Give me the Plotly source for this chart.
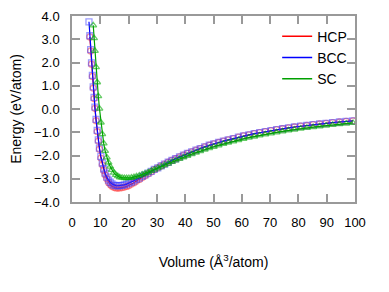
import plotly.graph_objects as go

# Volume grid (Å^3/atom)
vol_hcp = [6.3, 6.6, 6.9, 7.2, 7.5, 7.8, 8.1, 8.5, 8.9, 9.3, 9.7, 10.2, 10.7, 11.2, 11.7,
           12.3, 12.9, 13.5, 14.1, 14.8, 15.5, 16.2, 16.9, 17.7, 18.5, 19.3, 20.1, 21.0,
           21.9, 22.8, 23.8, 24.8, 25.8, 26.9, 28.0, 29.1, 30.3, 31.5, 32.7, 34.0, 35.3,
           36.6, 38.0, 39.4, 40.8, 42.3, 43.8, 45.3, 46.9, 48.5, 50.1, 51.8, 53.5, 55.2,
           57.0, 58.8, 60.6, 62.5, 64.4, 66.3, 68.3, 70.3, 72.3, 74.4, 76.5, 78.6, 80.8,
           83.0, 85.2, 87.5, 89.8, 92.1, 94.5, 96.9, 99.3]
e_hcp = [3.10, 2.50, 1.93, 1.40, 0.90, 0.45, 0.03, -0.50, -0.97, -1.38, -1.73, -2.11, -2.40,
         -2.64, -2.83, -3.00, -3.16, -3.25, -3.32, -3.37, -3.395, -3.40, -3.395, -3.38,
         -3.36, -3.33, -3.29, -3.23, -3.17, -3.10, -3.03, -2.95, -2.87, -2.79, -2.70,
         -2.61, -2.53, -2.45, -2.37, -2.29, -2.21, -2.14, -2.06, -1.985, -1.91, -1.84,
         -1.77, -1.70, -1.63, -1.56, -1.50, -1.44, -1.38, -1.325, -1.27, -1.21, -1.16,
         -1.11, -1.06, -1.02, -0.974, -0.93, -0.89, -0.85, -0.81, -0.775, -0.74, -0.71,
         -0.675, -0.645, -0.615, -0.59, -0.56, -0.535, -0.51]

vol_bcc = [6.0, 6.3, 6.6, 6.9, 7.2, 7.5, 7.8, 8.1, 8.5, 8.9, 9.3, 9.7, 10.2, 10.7, 11.2,
           11.7, 12.3, 12.9, 13.5, 14.1, 14.8, 15.5, 16.2, 16.9, 17.7, 18.5, 19.3, 20.1,
           21.0, 21.9, 22.8, 23.8, 24.8, 25.8, 26.9, 28.0, 29.1, 30.3, 31.5, 32.7, 34.0,
           35.3, 36.6, 38.0, 39.4, 40.8, 42.3, 43.8, 45.3, 46.9, 48.5, 50.1, 51.8, 53.5,
           55.2, 57.0, 58.8, 60.6, 62.5, 64.4, 66.3, 68.3, 70.3, 72.3, 74.4, 76.5, 78.6,
           80.8, 83.0, 85.2, 87.5, 89.8, 92.1, 94.5, 96.9, 99.3]
e_bcc = [3.75, 3.15, 2.55, 1.98, 1.45, 0.95, 0.50, 0.08, -0.45, -0.92, -1.33, -1.68, -2.04,
         -2.33, -2.57, -2.76, -2.93, -3.06, -3.15, -3.22, -3.27, -3.295, -3.30, -3.295,
         -3.284, -3.26, -3.23, -3.19, -3.14, -3.09, -3.03, -2.97, -2.90, -2.83, -2.76,
         -2.68, -2.60, -2.53, -2.45, -2.37, -2.29, -2.21, -2.14, -2.06, -1.985, -1.91,
         -1.84, -1.77, -1.70, -1.63, -1.56, -1.50, -1.44, -1.38, -1.325, -1.27, -1.21,
         -1.16, -1.11, -1.06, -1.02, -0.974, -0.93, -0.89, -0.85, -0.81, -0.775, -0.74,
         -0.71, -0.675, -0.645, -0.615, -0.59, -0.56, -0.535, -0.51]

vol_sc = [7.5, 7.8, 8.1, 8.5, 8.9, 9.3, 9.7, 10.2, 10.7, 11.2, 11.7, 12.3, 12.9, 13.5, 14.1,
          14.8, 15.5, 16.2, 16.9, 17.7, 18.5, 19.3, 20.1, 21.0, 21.9, 22.8, 23.8, 24.8,
          25.8, 26.9, 28.0, 29.1, 30.3, 31.5, 32.7, 34.0, 35.3, 36.6, 38.0, 39.4, 40.8,
          42.3, 43.8, 45.3, 46.9, 48.5, 50.1, 51.8, 53.5, 55.2, 57.0, 58.8, 60.6, 62.5,
          64.4, 66.3, 68.3, 70.3, 72.3, 74.4, 76.5, 78.6, 80.8, 83.0, 85.2, 87.5, 89.8,
          92.1, 94.5, 96.9, 99.3]
e_sc = [3.60, 3.05, 2.50, 1.80, 1.15, 0.55, 0.02, -0.58, -1.08, -1.48, -1.80, -2.08, -2.30,
        -2.48, -2.62, -2.74, -2.83, -2.89, -2.935, -2.955, -2.967, -2.97, -2.966, -2.951,
        -2.93, -2.90, -2.863, -2.82, -2.774, -2.72, -2.664, -2.605, -2.54, -2.48, -2.415,
        -2.346, -2.278, -2.213, -2.143, -2.076, -2.01, -1.94, -1.874, -1.81, -1.743, -1.68,
        -1.623, -1.562, -1.503, -1.447, -1.389, -1.333, -1.283, -1.232, -1.183, -1.138,
        -1.091, -1.048, -1.004, -0.963, -0.922, -0.884, -0.847, -0.812, -0.778, -0.745,
        -0.713, -0.683, -0.653, -0.626, -0.60]

series_names = ["HCP", "BCC", "SC"]
x_ticks = [0, 10, 20, 30, 40, 50, 60, 70, 80, 90, 100]
y_ticks = [-4, -3, -2, -1, 0, 1, 2, 3, 4]

FONT = "Liberation Sans, Arial, sans-serif"
styles = [
    ("#ff0000", "rgba(255,60,60,0.55)", "circle-open"),
    ("#0000ff", "rgba(60,60,255,0.5)", "square-open"),
    ("#00a000", "rgba(0,170,0,0.6)", "triangle-up-open"),
]

fig = go.Figure()
for (xs, ys), name, (lc, mc, sym) in zip(
        [(vol_hcp, e_hcp), (vol_bcc, e_bcc), (vol_sc, e_sc)], series_names, styles):
    fig.add_trace(go.Scatter(
        x=xs, y=ys, mode="lines+markers", name=name, showlegend=False,
        line=dict(color=lc, width=1.2),
        marker=dict(symbol=sym, size=6, color=mc, line=dict(width=1.3, color=mc)),
    ))
# legend entries (line only)
for name, (lc, mc, sym) in zip(series_names, styles):
    fig.add_trace(go.Scatter(x=[None], y=[None], mode="lines", name=name,
                             line=dict(color=lc, width=1.5), showlegend=True))

axis_common = dict(
    showgrid=False, zeroline=False, showline=True, linecolor="#999999", linewidth=1.5,
    mirror="ticks", ticks="inside", ticklen=8, tickcolor="#999999", tickwidth=1.5,
    tickfont=dict(family=FONT, size=13, color="#000000"), automargin=False,
)
fig.update_xaxes(range=[0, 100], tickvals=x_ticks, ticklabelstandoff=8,
                 title=dict(text="Volume (Å<sup>3</sup>/atom)", standoff=28,
                            font=dict(family=FONT, size=14, color="#000000")),
                 **axis_common)
fig.update_yaxes(range=[-4, 4], tickvals=y_ticks, tickformat=".1f", ticklabelstandoff=8,
                 title=dict(text="Energy (eV/atom)", standoff=10,
                            font=dict(family=FONT, size=14, color="#000000")),
                 **axis_common)

fig.update_layout(
    width=389, height=292,
    margin=dict(l=64, r=42, t=8, b=98, autoexpand=False),
    paper_bgcolor="white", plot_bgcolor="white",
    font=dict(family=FONT, color="#000000"),
    legend=dict(x=0.725, y=0.975, xanchor="left", yanchor="top",
                bgcolor="rgba(0,0,0,0)", font=dict(family=FONT, size=14),
                itemwidth=30),
)
fig.write_html("out.html")
